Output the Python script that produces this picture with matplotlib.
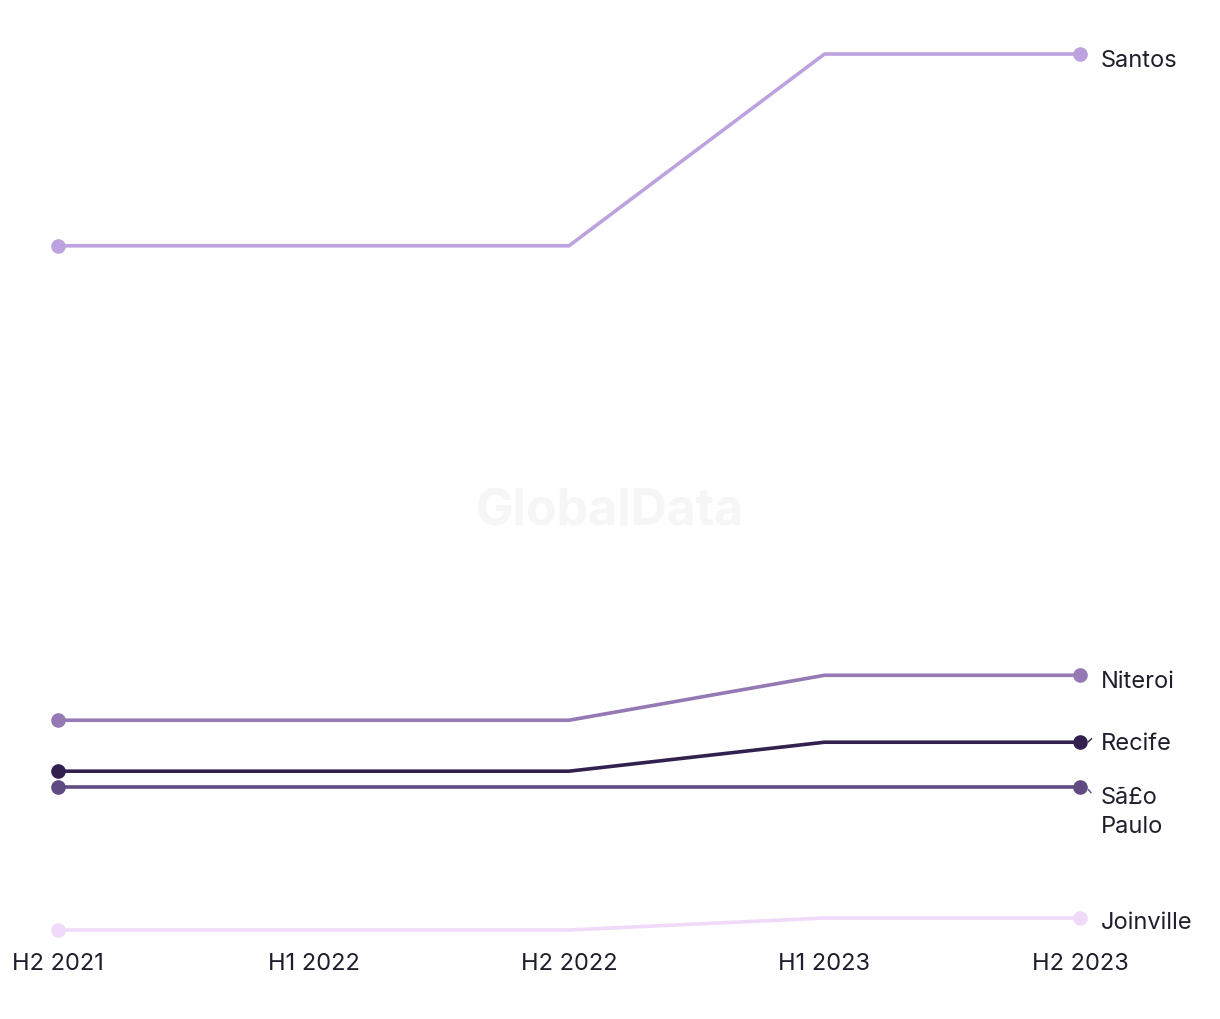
import matplotlib
matplotlib.use("Agg")
import matplotlib.pyplot as plt

periods = ["H2 2021", "H1 2022", "H2 2022", "H1 2023", "H2 2023"]
series_names = ["Santos", "Niteroi", "Recife", "Sã£o\nPaulo", "Joinville"]
santos = [68.5, 68.5, 68.5, 87.7, 87.7]
niteroi = [21.0, 21.0, 21.0, 25.5, 25.5]
recife = [15.9, 15.9, 15.9, 18.8, 18.8]
sao_paulo = [14.3, 14.3, 14.3, 14.3, 14.3]
joinville = [0.0, 0.0, 0.0, 1.2, 1.2]
colors = ["#bca3e0", "#9479b4", "#32214f", "#5f4a82", "#f1d9f9"]

all_series = [santos, niteroi, recife, sao_paulo, joinville]
# label vertical offsets (pixels, negative = down) for de-overlap
label_offsets = [-6, -6, -1, -24, -4]

plt.rcParams['font.family'] = ['Inter', 'DejaVu Sans']
text_color = "#1e1e2c"

fig = plt.figure(figsize=(12.2, 10.2), dpi=100)
W, H = 1220, 1020
ax = fig.add_axes([58 / W, 89 / H, (1080 - 58) / W, 876 / H])
ax.set_xlim(0, len(periods) - 1)
ax.set_ylim(min(joinville), max(santos))
for s in ax.spines.values():
    s.set_visible(False)
ax.set_yticks([])
ax.set_xticks(range(len(periods)))
ax.set_xticklabels(periods, fontsize=17, color=text_color)
ax.tick_params(axis='x', length=0, pad=16)

fig.text(0.5, 1 - 512 / H, "GlobalData", ha="center", va="center",
         fontsize=36, fontweight="bold", color="#f6f6f6", zorder=0)

x = list(range(len(periods)))
for name, vals, col, off in zip(series_names, all_series, colors, label_offsets):
    ax.plot(x, vals, color=col, lw=2.6, solid_capstyle="butt", clip_on=False, zorder=3)
    ax.plot([x[0], x[-1]], [vals[0], vals[-1]], "o", color=col, ms=9.5,
            clip_on=False, zorder=4)
    ax.annotate(name, xy=(x[-1], vals[-1]), xycoords="data",
                xytext=(21, off), textcoords="offset pixels",
                ha="left", va="center", fontsize=17, color=text_color,
                linespacing=1.4, annotation_clip=False)

# small leader ticks
ax.plot([4.033, 4.045], [recife[-1] + 0.05, recife[-1] + 0.35], color=colors[2], lw=1, clip_on=False)
ax.plot([4.033, 4.043], [sao_paulo[-1] - 0.25, sao_paulo[-1] - 0.55], color=colors[3], lw=1, clip_on=False)

fig.savefig("out.png", dpi=100, facecolor="white")
